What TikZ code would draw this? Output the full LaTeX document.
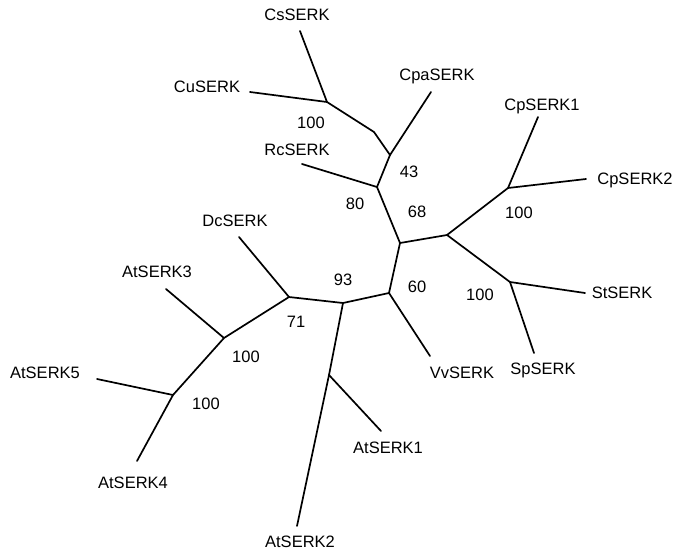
\documentclass[tikz,border=0pt]{standalone}
\usepackage{fontspec}
\setmainfont{Liberation Sans}
\begin{document}
\begin{tikzpicture}[x=1pt,y=-1pt,
  br/.style={line width=1.7pt,line cap=round,line join=round},
  lab/.style={inner sep=0pt,text height=11.8pt,text depth=0pt,font=\fontsize{16.5}{19}\selectfont},
  sup/.style={lab}]
\useasboundingbox (0,0) rectangle (676,552);
% internal points
\coordinate (A) at (327,102);
\coordinate (Ab) at (374,132);
\coordinate (B) at (390,155);
\coordinate (C) at (377,187);
\coordinate (D) at (400,243);
\coordinate (E) at (447,235);
\coordinate (I) at (508,188);
\coordinate (J) at (510,282);
\coordinate (F) at (389,293);
\coordinate (G) at (343,303);
\coordinate (H) at (289,297);
\coordinate (M) at (329,375);
\coordinate (K) at (224,338);
\coordinate (L) at (173,395);
% leaf ends
\coordinate (cs) at (300,31);
\coordinate (cu) at (250,92);
\coordinate (cpa) at (431,92);
\coordinate (rc) at (302,164);
\coordinate (cp1) at (538,117);
\coordinate (cp2) at (586,179);
\coordinate (st) at (585,293);
\coordinate (sp) at (534,353);
\coordinate (vv) at (430,356);
\coordinate (at1) at (381,431);
\coordinate (at2) at (297,526);
\coordinate (dc) at (239,237);
\coordinate (at3) at (166,289);
\coordinate (at5) at (97,379);
\coordinate (at4) at (137,461);
% branches
\draw[br] (cs) -- (A) -- (cu);
\draw[br] (A) -- (Ab) -- (B) -- (cpa);
\draw[br] (B) -- (C) -- (rc);
\draw[br] (C) -- (D) -- (E) -- (I) -- (cp1);
\draw[br] (I) -- (cp2);
\draw[br] (E) -- (J) -- (st);
\draw[br] (J) -- (sp);
\draw[br] (D) -- (F) -- (vv);
\draw[br] (F) -- (G) -- (H) -- (dc);
\draw[br] (G) -- (M) -- (at1);
\draw[br] (M) -- (at2);
\draw[br] (H) -- (K) -- (at3);
\draw[br] (K) -- (L) -- (at5);
\draw[br] (L) -- (at4);
% leaf labels
\node[lab] (lcs) at (297,15) {CsSERK};
\node[lab] (lcu) at (207,87) {CuSERK};
\node[lab] (lcpa) at (437,75) {CpaSERK};
\node[lab] (lrc) at (297,150) {RcSERK};
\node[lab] (lcp1) at (542,105) {CpSERK1};
\node[lab] (lcp2) at (635,179) {CpSERK2};
\node[lab] (lst) at (622,293) {StSERK};
\node[lab] (lsp) at (543,369) {SpSERK};
\node[lab] (lvv) at (462,373) {VvSERK};
\node[lab] (lat1) at (388,448) {AtSERK1};
\node[lab] (lat2) at (300,542) {AtSERK2};
\node[lab] (lat4) at (133,483) {AtSERK4};
\node[lab] (lat5) at (45,373) {AtSERK5};
\node[lab] (lat3) at (157,272) {AtSERK3};
\node[lab] (ldc) at (235,221) {DcSERK};
% support values
\node[sup] (s1) at (311,123) {100};
\node[sup] (s2) at (409,172) {43};
\node[sup] (s3) at (355,204) {80};
\node[sup] (s4) at (417,212) {68};
\node[sup] (s5) at (519,213) {100};
\node[sup] (s6) at (480,295) {100};
\node[sup] (s7) at (417,287) {60};
\node[sup] (s8) at (343,280) {93};
\node[sup] (s9) at (296,322) {71};
\node[sup] (s10) at (246,357) {100};
\node[sup] (s11) at (206,404) {100};
\end{tikzpicture}
\end{document}
